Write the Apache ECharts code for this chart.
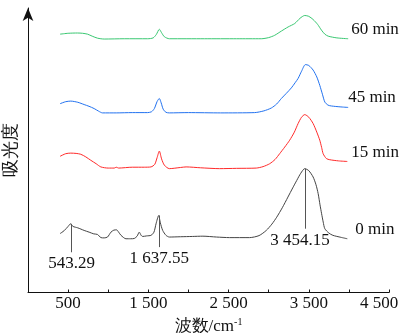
<!DOCTYPE html>
<html><head><meta charset="utf-8">
<script src="https://cdn.jsdelivr.net/npm/echarts@6/dist/echarts.min.js"></script>
<style>html,body{margin:0;padding:0;background:#fff}#c{width:400px;height:333px}</style>
</head><body><div id="c"></div>
<script>
// FTIR spectra (wavenumber cm-1, absorbance a.u., stacked)
var spec0 = [[400,20.5],[450,21.5],[500,23.0],[530,23.9],[560,23.0],[620,22.5],[700,21.6],[762,21.0],[820,20.4],[866,20.2],[909,19.1],[950,19.0],[991,19.3],[1034,21.0],[1070,21.7],[1104,21.8],[1130,21.0],[1159,19.9],[1221,18.7],[1280,18.7],[1325,18.8],[1360,19.6],[1387,21.0],[1410,19.9],[1429,19.5],[1480,19.7],[1534,19.9],[1570,21.0],[1596,23.9],[1629,26.8],[1650,24.2],[1679,21.6],[1720,19.9],[1762,19.3],[1900,19.4],[2050,19.5],[2180,19.6],[2350,19.3],[2512,19.1],[2762,19.1],[2880,19.8],[2970,21.6],[3040,23.8],[3100,26.2],[3170,29.5],[3240,33.2],[3300,36.4],[3350,39.0],[3400,41.5],[3450,43.1],[3500,42.4],[3554,40.2],[3590,37.5],[3617,34.4],[3640,30.5],[3660,27.4],[3680,24.5],[3700,22.2],[3750,20.7],[3800,19.9],[3900,19.2],[3980,18.7]];
var spec15 = [[400,47.4],[470,48.3],[533,48.5],[600,48.4],[658,48.1],[720,47.2],[783,46.0],[850,44.8],[908,43.7],[1000,43.3],[1075,43.3],[1100,43.6],[1130,43.3],[1300,43.6],[1450,43.6],[1533,43.7],[1580,44.6],[1610,47.0],[1637,49.2],[1665,46.5],[1700,44.3],[1762,43.1],[1900,43.5],[1971,43.7],[2150,43.4],[2387,43.1],[2600,43.2],[2846,43.3],[2930,43.8],[3012,44.8],[3080,46.3],[3137,48.3],[3200,50.6],[3262,53.0],[3320,55.8],[3367,58.8],[3410,61.0],[3450,61.9],[3500,61.0],[3554,58.8],[3600,55.8],[3637,53.0],[3660,50.5],[3679,48.3],[3720,46.6],[3762,46.2],[3870,45.8],[3980,45.6]];
var spec45 = [[400,65.7],[470,66.4],[533,66.6],[620,66.2],[700,65.4],[760,64.8],[825,64.0],[880,63.1],[929,62.5],[1100,62.5],[1300,62.6],[1491,62.6],[1540,62.9],[1575,64.0],[1610,66.5],[1637,67.5],[1660,66.0],[1685,63.8],[1720,62.7],[1762,62.5],[2000,62.6],[2400,62.5],[2825,62.6],[2940,63.2],[3033,64.2],[3100,65.6],[3158,67.5],[3220,69.3],[3283,71.2],[3330,73.0],[3367,74.5],[3410,77.0],[3458,79.3],[3500,79.0],[3554,77.4],[3600,75.0],[3637,72.1],[3670,69.0],[3700,66.3],[3740,65.2],[3783,64.9],[3890,64.6],[3991,64.4]];
var spec60 = [[400,89.9],[500,90.2],[617,90.3],[680,90.2],[742,89.9],[800,89.2],[867,88.5],[950,88.2],[1200,88.3],[1491,88.3],[1560,88.6],[1600,89.8],[1637,91.6],[1665,90.4],[1700,89.0],[1762,88.3],[2200,88.3],[2600,88.3],[2908,88.3],[3000,88.7],[3075,89.5],[3160,91.0],[3242,92.4],[3325,93.6],[3390,95.4],[3450,96.4],[3500,96.1],[3554,95.0],[3610,93.3],[3658,91.3],[3700,89.9],[3742,89.2],[3850,88.6],[3991,88.3]];
var seriesNames = ['0 min','15 min','45 min','60 min'];
var seriesColors = ['#444444','#ff2a2a','#2272f0','#3ac872'];
var peakWavenumbers = [543.29, 1637.55, 3454.15];
var peakTops = [23.9, 26.8, 43.1];
var peakBottoms = [14.0, 15.8, 22.2];
var xTickLabels = [500, 1500, 2500, 3500, 4500];

var serif = 'Liberation Serif';
function fmt(n){
  var s = String(n).split('.');
  var i = s[0].replace(/\B(?=(\d{3})+(?!\d))/g,' ');
  return s.length>1 ? i+'.'+s[1] : i;
}
var specs = [spec0, spec15, spec45, spec60];
var labelOffsets = [[0,-9],[-4,-9],[-8,-10],[-5,-9]];
var markData = peakWavenumbers.map(function(w,i){
  return [{coord:[w, peakTops[i]], name: fmt(w), label:{offset: i===2?[-5,0]:[0,0]}}, {coord:[w, peakBottoms[i]]}];
});
var series = specs.map(function(d,i){
  var s = {
    name: seriesNames[i], type:'line', data: d, showSymbol:false, smooth:0.25,
    lineStyle:{color: seriesColors[i], width:1}, itemStyle:{color: seriesColors[i]},
    z: 3,
    endLabel:{show:true, formatter:'{a}', color:'#111', fontSize:17, fontFamily:serif, offset: labelOffsets[i]},
    silent:true, animation:false
  };
  if(i===0){
    s.markLine = {
      symbol:'none', silent:true, animation:false,
      lineStyle:{color:'#555', width:1, type:'solid'},
      label:{show:true, position:'end', distance:3, formatter:'{b}', color:'#111', fontSize:17, fontFamily:serif},
      data: markData
    };
  }
  return s;
});
var lastTick = xTickLabels[xTickLabels.length-1];
var chart = echarts.init(document.getElementById('c'), null, {renderer:'canvas'});
chart.setOption({
  animation:false,
  backgroundColor:'#fff',
  grid:{left:28, right:11, top:8, bottom:40.5, containLabel:false, outerBoundsMode:'none'},
  xAxis:{
    type:'value', min:0, max:4500, interval:500,
    axisLine:{show:true, lineStyle:{color:'#111', width:1}},
    axisTick:{show:true, inside:true, length:3, lineStyle:{color:'#111'}},
    splitLine:{show:false},
    axisLabel:{margin:3, color:'#111', fontSize:17, fontFamily:serif, hideOverlap:false, showMaxLabel:true,
      rich:{r:{fontSize:17, fontFamily:serif, color:'#111', padding:[0,20,0,0]}},
      formatter:function(v){
        if(xTickLabels.indexOf(v)<0) return '';
        return v===lastTick ? '{r|'+fmt(v)+'}' : fmt(v);
      }},
    name:'{a|波数/cm}{s|-1}', nameLocation:'middle', nameGap:20,
    nameTextStyle:{rich:{a:{fontSize:17, fontFamily:serif, color:'#111'}, s:{fontSize:10, fontFamily:serif, color:'#111', padding:[0,0,9,0]}}}
  },
  yAxis:{
    type:'value', min:0, max:99,
    axisLine:{show:true, symbol:['none','arrow'], symbolSize:[8,13], lineStyle:{color:'#111', width:1}},
    axisTick:{show:false}, axisLabel:{show:false}, splitLine:{show:false},
    name:'吸光度', nameLocation:'middle', nameRotate:90, nameGap:8,
    nameTextStyle:{fontSize:18, fontFamily:serif, color:'#111'}
  },
  series: series
});
</script></body></html>
